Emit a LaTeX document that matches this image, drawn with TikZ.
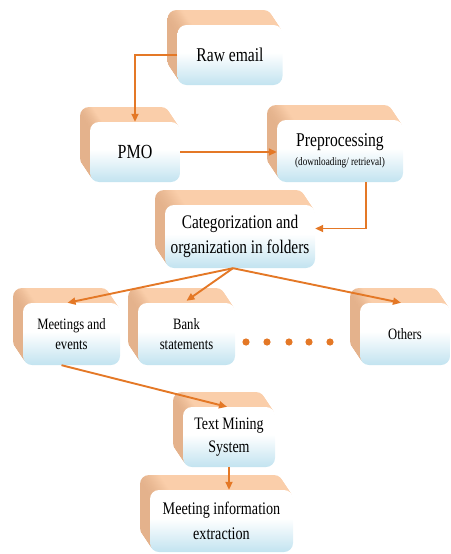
\documentclass[tikz,border=0pt]{standalone}
\usepackage{fontspec}
\setmainfont{Liberation Serif}[FakeStretch=0.8]
\usetikzlibrary{shadows,arrows.meta}

\definecolor{linkorange}{RGB}{228,120,38}
\definecolor{faceblue}{RGB}{194,227,240}
\definecolor{sidepeach}{RGB}{250,206,170}
\definecolor{sidetan}{RGB}{228,178,140}

\pgfdeclareverticalshading{frontface}{100bp}{color(0bp)=(faceblue); color(25bp)=(faceblue); color(52bp)=(white); color(100bp)=(white)}
\pgfdeclarehorizontalshading{sideface}{100bp}{color(0bp)=(sidetan); color(25bp)=(sidetan); color(32bp)=(sidepeach); color(100bp)=(sidepeach)}

\tikzstyle{every node} = [
		font = \fontsize{15.8}{20}\selectfont,
		align = center,
		inner sep = 0pt
	]
\tikzstyle{layer} = [
		general shadow = {shadow xshift = {-#1pt}, shadow yshift = {1.5*#1pt}, shade, shading = sideface}
	]
\tikzstyle{block} = [
		rectangle,
		rounded corners = 9pt,
		layer = 10, layer = 9, layer = 8, layer = 7, layer = 6,
		layer = 5, layer = 4, layer = 3, layer = 2, layer = 1,
		shade,
		shading = frontface,
		draw = none
	]
\tikzstyle{link} = [
		draw = linkorange,
		line width = 1.9pt,
		-{Triangle[length = 8pt, width = 7pt]}
	]

\begin{document}
\begin{tikzpicture}[x = 1pt, y = -1pt]

		\useasboundingbox (0,0) rectangle (450,554);

		%------------------------------Blocks------------------------------
		\node [block, minimum width = 105pt, minimum height = 60pt, font = \fontsize{19.5}{23}\selectfont] (raw) at (230,55) {Raw email};
		\node [block, minimum width = 90pt, minimum height = 60pt, font = \fontsize{20}{23}\selectfont] (pmo) at (135,152) {PMO};
		\node [block, minimum width = 126pt, minimum height = 62pt, font = \fontsize{19.5}{20}\selectfont] (pre) at (340,151)
			{Preprocessing\\[-1pt]{\fontsize{11.5}{13}\selectfont (downloading/ retrieval)}};
		\node [block, minimum width = 150pt, minimum height = 63pt, font = \fontsize{19.2}{25}\selectfont] (cat) at (240,236.5)
			{Categorization and\\organization in folders};
		\node [block, minimum width = 97pt, minimum height = 62pt] (meet) at (71.5,334) {Meetings and\\events};
		\node [block, minimum width = 97pt, minimum height = 62pt] (bank) at (186.5,334) {Bank\\statements};
		\node [block, minimum width = 90pt, minimum height = 62pt] (others) at (405,334) {Others};
		\node [block, minimum width = 92pt, minimum height = 60pt, font = \fontsize{17.5}{23}\selectfont] (tms) at (229,437)
			{Text Mining\\System};
		\node [block, minimum width = 143pt, minimum height = 62pt, font = \fontsize{17.7}{25}\selectfont] (mie) at (221.5,521)
			{Meeting information\\extraction};

		\foreach \x in {246,267,289,309,330}
			\fill [linkorange] (\x,342) circle (3.6pt);

		%------------------------------Links------------------------------
		\coordinate (fan) at ([xshift = -7pt]cat.south);

		\draw [link] (raw.west) -| (pmo.north);
		\draw [link] (pmo.east) -- (pre.west |- pmo.east);
		\draw [link] ([xshift = 26pt]pre.south) |- ([yshift = 8pt]cat.east);
		\draw [link] (fan) -- ([xshift = -4pt]meet.north);
		\draw [link] (fan) -- ([yshift = 2pt]bank.north);
		\draw [link] (fan) -- ([xshift = -4pt]others.north);
		\draw [link] ([xshift = -10pt]meet.south) -- ([xshift = -2pt]tms.north);
		\draw [link] (tms.south) -- (tms.south |- mie.north);

	\end{tikzpicture}
\end{document}
